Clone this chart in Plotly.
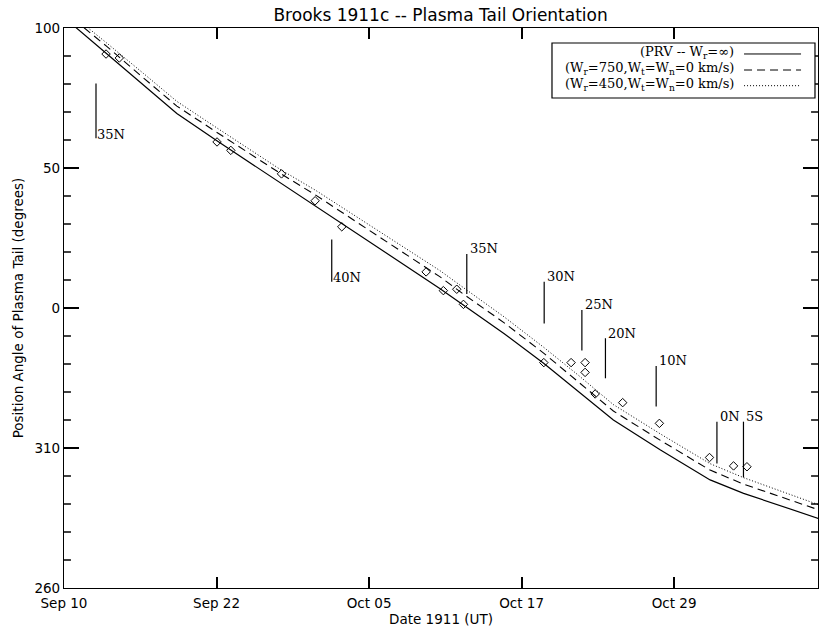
import numpy as np
import plotly.graph_objects as go

# ---------------- data (days since 1911 Sep 10.0 UT, position angles in degrees) ----------------
curve_days = [0.0, 0.9, 3.4, 6.4, 9.1, 12.3, 17.4, 20.3, 22.4, 26.6, 30.3, 32.2,
              35.5, 38.7, 41.5, 44.3, 48.1, 52.1, 54.8, 58.3, 61.0]
pa_prv = [103.5, 100.4, 91.0, 79.6, 69.5, 59.8, 44.8, 36.5, 30.2, 18.0, 7.0, 1.1,
          350.8, 340.2, 330.2, 320.0, 309.3, 298.6, 293.8, 288.5, 284.6]
pa_w750 = [106.0, 102.8, 93.6, 82.2, 72.1, 62.8, 48.2, 40.3, 34.2, 22.0, 11.2, 5.0,
           354.7, 343.8, 333.6, 323.2, 312.7, 302.1, 297.1, 291.7, 287.7]
pa_w450 = [107.0, 103.8, 94.8, 83.8, 73.8, 64.4, 49.6, 42.0, 36.0, 24.2, 13.4, 7.3,
           356.8, 345.9, 335.9, 325.5, 315.0, 304.4, 299.4, 293.8, 289.5]

obs_days = [3.39, 4.46, 12.34, 13.45, 17.54, 20.25, 22.40, 29.20, 30.59, 31.67, 32.21,
            38.69, 40.89, 42.02, 42.02, 42.83, 45.05, 48.01, 52.05, 53.99, 55.07]
obs_pa = [90.7, 89.3, 59.3, 56.3, 47.9, 38.3, 29.0, 12.9, 6.2, 6.7, 1.3,
          340.5, 340.5, 340.5, 337.0, 329.3, 326.2, 318.8, 306.6, 303.6, 303.3]

lat_labels = ["35N", "40N", "35N", "30N", "25N", "20N", "10N", "0N", "5S"]
lat_days = [2.58, 21.59, 32.48, 38.72, 41.76, 43.66, 47.75, 52.65, 54.79]
lat_top = [80.2, 24.5, 19.3, 9.4, 359.3, 349.2, 339.3, 319.4, 319.4]
lat_bottom = [60.6, 9.4, 5.0, 354.5, 344.8, 334.9, 324.8, 304.5, 299.5]
lat_side = ["below", "below", "above", "above", "above", "above", "above", "above", "above"]

x_tick_days = [0, 12.3, 24.6, 36.9, 49.2]
x_tick_labels = ["Sep 10", "Sep 22", "Oct 05", "Oct 17", "Oct 29"]
y_tick_vals = [-100, -50, 0, 50, 100]
y_tick_labels = ["260", "310", "0", "50", "100"]
y_minor_vals = [v for v in range(-90, 100, 10) if v % 50 != 0]

legend_names = ["(PRV -- W<sub>r</sub>=\u221e)",
                "(W<sub>r</sub>=750,W<sub>t</sub>=W<sub>n</sub>=0 km/s)",
                "(W<sub>r</sub>=450,W<sub>t</sub>=W<sub>n</sub>=0 km/s)"]
legend_dashes = ["solid", "8px,5px", "1px,2px"]


def unwrap(pa):
    a = np.asarray(pa, dtype=float)
    return np.where(a > 180, a - 360, a)


SANS = "DejaVu Sans"
SERIF = "DejaVu Serif"
INK = "#000000"

fig = go.Figure()
for vals, name, dash, w in zip([pa_prv, pa_w750, pa_w450], legend_names, legend_dashes,
                               [1.2, 1.1, 1.0]):
    fig.add_trace(go.Scatter(x=curve_days, y=unwrap(vals), mode="lines", name=name,
                             line=dict(color=INK, width=w, dash=dash), showlegend=False))

fig.add_trace(go.Scatter(x=obs_days, y=unwrap(obs_pa), mode="markers", name="observed",
                         marker=dict(symbol="diamond-open", size=6.5, color=INK,
                                     line=dict(width=1, color=INK)),
                         showlegend=False))

shapes = []
annotations = []
for lab, d, top, bot, side in zip(lat_labels, lat_days, unwrap(lat_top), unwrap(lat_bottom), lat_side):
    shapes.append(dict(type="line", xref="x", yref="y", x0=d, x1=d, y0=bot, y1=top,
                       line=dict(color=INK, width=1.2)))
    if side == "below":
        annotations.append(dict(x=d, y=bot, xref="x", yref="y", text=lab, showarrow=False,
                                xanchor="left", yanchor="middle", xshift=-1, yshift=4,
                                font=dict(family=SERIF, size=13, color=INK)))
    else:
        annotations.append(dict(x=d, y=top, xref="x", yref="y", text=lab, showarrow=False,
                                xanchor="left", yanchor="middle", xshift=1, yshift=5,
                                font=dict(family=SERIF, size=13, color=INK)))

# minor y ticks (every 10 degrees) on both vertical axes, positioned by the y scale
for v in y_minor_vals:
    shapes.append(dict(type="line", xref="x", yref="y", x0=0, x1=0.56, y0=v, y1=v,
                       line=dict(color=INK, width=1.5)))
    shapes.append(dict(type="line", xref="x", yref="y", x0=60.24, x1=60.8, y0=v, y1=v,
                       line=dict(color=INK, width=1.5)))

# manual legend (text on the left, line sample on the right, inside a box)
shapes.append(dict(type="rect", xref="paper", yref="paper", x0=0.6472, x1=0.9960,
                   y0=0.8750, y1=0.9732, line=dict(color=INK, width=1.2),
                   fillcolor="white", layer="above"))
text_rows = [0.9570, 0.9285, 0.8995]
sample_rows = [0.9536, 0.9250, 0.8970]
for name, dash, ty, sy in zip(legend_names, legend_dashes, text_rows, sample_rows):
    annotations.append(dict(x=0.8899, y=ty, xref="paper", yref="paper", text=name,
                            showarrow=False, xanchor="right", yanchor="middle",
                            borderpad=0,
                            font=dict(family=SERIF, size=13, color=INK)))
    shapes.append(dict(type="line", xref="paper", yref="paper", x0=0.9019, x1=0.9775,
                       y0=sy, y1=sy, line=dict(color=INK, width=1, dash=dash), layer="above"))

fig.update_layout(
    width=819, height=635, autosize=False,
    margin=dict(l=64, r=1, t=28, b=47, autoexpand=False),
    paper_bgcolor="white", plot_bgcolor="white",
    title=dict(text="Brooks 1911c -- Plasma Tail Orientation", x=0.538, xanchor="center",
               y=1 - 15 / 635, yanchor="middle", yref="container",
               font=dict(family=SANS, size=17, color=INK)),
    shapes=shapes, annotations=annotations,
    font=dict(family=SANS, size=13.5, color=INK),
    xaxis=dict(range=[0, 60.8], tickmode="array", tickvals=x_tick_days, ticktext=x_tick_labels,
               ticks="inside", ticklen=11, tickwidth=1.5, tickcolor=INK,
               showline=True, linecolor=INK, linewidth=1.2, mirror="ticks",
               showgrid=False, zeroline=False, ticklabelstandoff=3,
               tickfont=dict(family=SANS, size=13.5, color=INK),
               title=dict(text="Date 1911 (UT)", standoff=3,
                          font=dict(family=SANS, size=13.5, color=INK))),
    yaxis=dict(range=[-100, 100], tickmode="array", tickvals=y_tick_vals, ticktext=y_tick_labels,
               ticks="inside", ticklen=15, tickwidth=2, tickcolor=INK,
               showline=True, linecolor=INK, linewidth=1.2, mirror="ticks",
               showgrid=False, zeroline=False,
               tickfont=dict(family=SANS, size=13.5, color=INK),
               title=dict(text="Position Angle of Plasma Tail (degrees)", standoff=7,
                          font=dict(family=SANS, size=13.5, color=INK))),
)

fig.write_html("out.html", post_script="document.body.style.margin='0px';",
               config={"displayModeBar": False})
